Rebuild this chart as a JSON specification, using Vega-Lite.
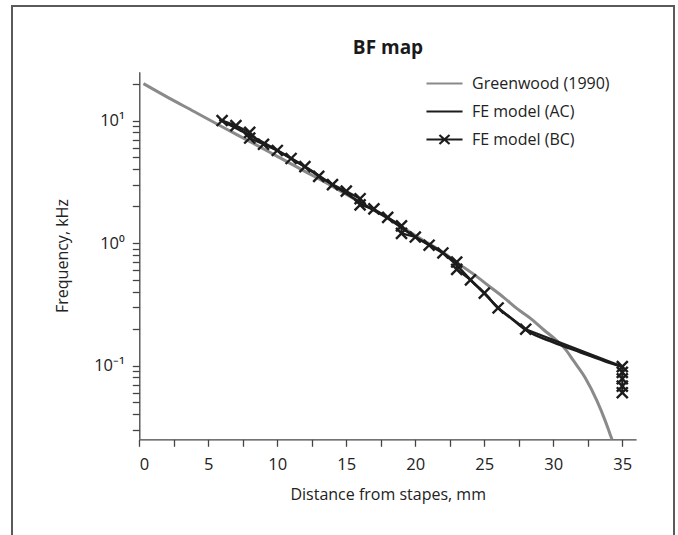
{
  "$schema": "https://vega.github.io/schema/vega-lite/v6.json",
  "autosize": "none",
  "padding": {"left": 12, "top": 6, "right": 4, "bottom": 0},
  "width": 662,
  "height": 540,
  "background": "white",
  "title": {"text": "BF map", "anchor": "middle", "dx": 45, "dy": 56, "font": "Open Sans", "fontSize": 19, "fontWeight": "bold", "color": "#1a1a1a"},
  "config": {
    "view": {"stroke": "#5a5a5a", "strokeWidth": 2},
    "font": "Open Sans",
    "axis": {"domainColor": "#444", "tickColor": "#444", "domainWidth": 1.3, "tickWidth": 1.3, "tickSize": 7, "labelColor": "#222", "titleColor": "#222", "labelFont": "Open Sans", "titleFont": "Open Sans", "labelFontSize": 16.5, "titleFontSize": 16, "titleFontWeight": "normal", "grid": false}
  },
  "datasets": {
    "gw": [
      {"d": 0.3, "f": 20.0, "series": "Greenwood (1990)"},
      {"d": 2, "f": 15.6, "series": "Greenwood (1990)"},
      {"d": 4, "f": 11.8, "series": "Greenwood (1990)"},
      {"d": 6, "f": 8.9, "series": "Greenwood (1990)"},
      {"d": 8, "f": 6.75, "series": "Greenwood (1990)"},
      {"d": 10, "f": 5.1, "series": "Greenwood (1990)"},
      {"d": 12, "f": 3.85, "series": "Greenwood (1990)"},
      {"d": 14, "f": 2.9, "series": "Greenwood (1990)"},
      {"d": 16, "f": 2.15, "series": "Greenwood (1990)"},
      {"d": 18, "f": 1.6, "series": "Greenwood (1990)"},
      {"d": 20, "f": 1.15, "series": "Greenwood (1990)"},
      {"d": 22, "f": 0.84, "series": "Greenwood (1990)"},
      {"d": 23.2, "f": 0.67, "series": "Greenwood (1990)"},
      {"d": 24.2, "f": 0.56, "series": "Greenwood (1990)"},
      {"d": 25.4, "f": 0.44, "series": "Greenwood (1990)"},
      {"d": 26.4, "f": 0.36, "series": "Greenwood (1990)"},
      {"d": 27.4, "f": 0.29, "series": "Greenwood (1990)"},
      {"d": 28.3, "f": 0.245, "series": "Greenwood (1990)"},
      {"d": 29.3, "f": 0.196, "series": "Greenwood (1990)"},
      {"d": 30.25, "f": 0.16, "series": "Greenwood (1990)"},
      {"d": 30.9, "f": 0.135, "series": "Greenwood (1990)"},
      {"d": 31.45, "f": 0.11, "series": "Greenwood (1990)"},
      {"d": 32.3, "f": 0.08, "series": "Greenwood (1990)"},
      {"d": 33.15, "f": 0.052, "series": "Greenwood (1990)"},
      {"d": 33.75, "f": 0.0357, "series": "Greenwood (1990)"},
      {"d": 34.1, "f": 0.0278, "series": "Greenwood (1990)"},
      {"d": 34.25, "f": 0.025, "series": "Greenwood (1990)"}
    ],
    "ac": [
      {"d": 5.8, "f": 10.2, "series": "FE model (AC)"},
      {"d": 8, "f": 7.6, "series": "FE model (AC)"},
      {"d": 10, "f": 5.7, "series": "FE model (AC)"},
      {"d": 12, "f": 4.2, "series": "FE model (AC)"},
      {"d": 14, "f": 3.0, "series": "FE model (AC)"},
      {"d": 16, "f": 2.15, "series": "FE model (AC)"},
      {"d": 18, "f": 1.6, "series": "FE model (AC)"},
      {"d": 20, "f": 1.12, "series": "FE model (AC)"},
      {"d": 22, "f": 0.83, "series": "FE model (AC)"},
      {"d": 23, "f": 0.66, "series": "FE model (AC)"},
      {"d": 24, "f": 0.5, "series": "FE model (AC)"},
      {"d": 25, "f": 0.39, "series": "FE model (AC)"},
      {"d": 26, "f": 0.295, "series": "FE model (AC)"},
      {"d": 27, "f": 0.24, "series": "FE model (AC)"},
      {"d": 28, "f": 0.195, "series": "FE model (AC)"},
      {"d": 30, "f": 0.155, "series": "FE model (AC)"},
      {"d": 32, "f": 0.128, "series": "FE model (AC)"},
      {"d": 34, "f": 0.106, "series": "FE model (AC)"},
      {"d": 35, "f": 0.098, "series": "FE model (AC)"}
    ],
    "bc": [
      {"d": 6, "f": 10.0, "series": "FE model (BC)"},
      {"d": 7, "f": 9.1, "series": "FE model (BC)"},
      {"d": 8, "f": 8.0, "series": "FE model (BC)"},
      {"d": 8, "f": 7.2, "series": "FE model (BC)"},
      {"d": 9, "f": 6.4, "series": "FE model (BC)"},
      {"d": 10, "f": 5.7, "series": "FE model (BC)"},
      {"d": 11, "f": 4.9, "series": "FE model (BC)"},
      {"d": 12, "f": 4.2, "series": "FE model (BC)"},
      {"d": 13, "f": 3.5, "series": "FE model (BC)"},
      {"d": 14, "f": 3.0, "series": "FE model (BC)"},
      {"d": 15, "f": 2.65, "series": "FE model (BC)"},
      {"d": 16, "f": 2.3, "series": "FE model (BC)"},
      {"d": 16, "f": 2.05, "series": "FE model (BC)"},
      {"d": 17, "f": 1.9, "series": "FE model (BC)"},
      {"d": 18, "f": 1.62, "series": "FE model (BC)"},
      {"d": 19, "f": 1.38, "series": "FE model (BC)"},
      {"d": 19, "f": 1.2, "series": "FE model (BC)"},
      {"d": 20, "f": 1.12, "series": "FE model (BC)"},
      {"d": 21, "f": 0.96, "series": "FE model (BC)"},
      {"d": 22, "f": 0.83, "series": "FE model (BC)"},
      {"d": 23, "f": 0.7, "series": "FE model (BC)"},
      {"d": 23, "f": 0.61, "series": "FE model (BC)"},
      {"d": 24, "f": 0.5, "series": "FE model (BC)"},
      {"d": 25, "f": 0.39, "series": "FE model (BC)"},
      {"d": 26, "f": 0.295, "series": "FE model (BC)"},
      {"d": 28, "f": 0.198, "series": "FE model (BC)"},
      {"d": 35, "f": 0.098, "series": "FE model (BC)"},
      {"d": 35, "f": 0.088, "series": "FE model (BC)"},
      {"d": 35, "f": 0.078, "series": "FE model (BC)"},
      {"d": 35, "f": 0.068, "series": "FE model (BC)"},
      {"d": 35, "f": 0.06, "series": "FE model (BC)"}
    ]
  },
  "encoding": {
    "x": {
      "field": "d", "type": "quantitative",
      "scale": {"domain": [0, 36], "range": [127.3, 624.1], "nice": false, "zero": false},
      "axis": {"title": "Distance from stapes, mm", "offset": -106.7, "values": [0, 2.5, 5, 7.5, 10, 12.5, 15, 17.5, 20, 22.5, 25, 27.5, 30, 32.5, 35], "labelExpr": "datum.value % 5 === 0 ? datum.label : ''", "labelPadding": 10, "titlePadding": 14}
    },
    "y": {
      "field": "f", "type": "quantitative",
      "scale": {"type": "log", "domain": [0.025, 25], "range": [433.3, 65.8], "nice": false},
      "axis": {"title": "Frequency, kHz", "offset": -127.3, "values": [0.03, 0.04, 0.05, 0.06, 0.07, 0.08, 0.09, 0.1, 0.2, 0.3, 0.4, 0.5, 0.6, 0.7, 0.8, 0.9, 1, 2, 3, 4, 5, 6, 7, 8, 9, 10, 20], "labelExpr": "datum.value === 10 ? '10¹' : datum.value === 1 ? '10⁰' : datum.value === 0.1 ? '10⁻¹' : ''", "labelPadding": 8, "titlePadding": 23}
    }
  },
  "layer": [
    {
      "data": {"name": "gw"},
      "mark": {"type": "line", "strokeWidth": 3, "interpolate": "monotone"},
      "encoding": {
        "color": {
          "field": "series", "type": "nominal",
          "scale": {"domain": ["Greenwood (1990)", "FE model (AC)", "FE model (BC)"], "range": ["#8a8a8a", "#1c1c1c", "#1c1c1c"]},
          "legend": {
            "title": null, "orient": "none", "legendX": 413, "legendY": 58,
            "symbolType": "stroke", "symbolSize": 1300, "symbolStrokeWidth": 2.2,
            "labelFont": "Open Sans", "labelFontSize": 16, "labelColor": "#222", "labelOffset": 8,
            "rowPadding": -4,
            "encode": {"symbols": {"update": {"shape": {"signal": "datum.value === 'FE model (BC)' ? 'M-1,0L1,0M-0.28,-0.25L0.28,0.25M-0.28,0.25L0.28,-0.25' : 'stroke'"}}}}
          }
        }
      }
    },
    {
      "data": {"name": "ac"},
      "mark": {"type": "line", "strokeWidth": 2.6, "interpolate": "monotone"},
      "encoding": {"color": {"field": "series", "type": "nominal"}}
    },
    {
      "data": {"name": "bc"},
      "mark": {"type": "line", "strokeWidth": 2.2},
      "encoding": {"color": {"field": "series", "type": "nominal"}, "order": {"value": null}}
    },
    {
      "data": {"name": "bc"},
      "mark": {"type": "point", "shape": "M-1,-1L1,1M-1,1L1,-1", "filled": false, "stroke": "#1c1c1c", "strokeWidth": 2.4, "size": 120, "opacity": 1}
    }
  ]
}
